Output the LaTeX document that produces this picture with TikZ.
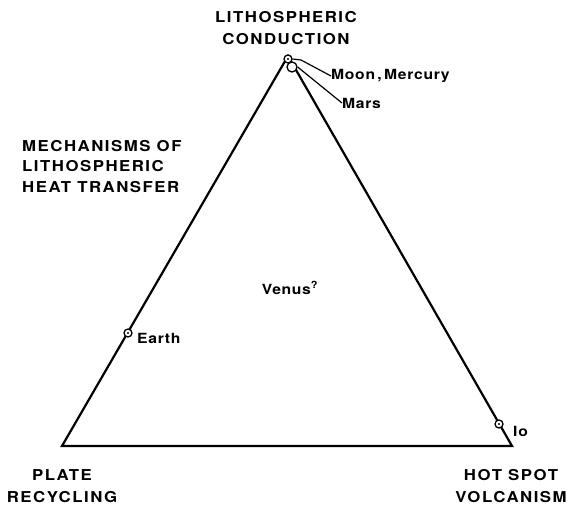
\documentclass[tikz,border=0pt]{standalone}
\usepackage{fontspec}
\setmainfont{TeX Gyre Heros}[FakeStretch=1.12,LetterSpace=10]
\begin{document}
\begin{tikzpicture}[x=1pt,y=-1pt,
  edge/.style={line width=2.2pt,line join=miter},
  mk/.style={circle,draw,line width=1.3pt,fill=white,inner sep=0pt,minimum size=8pt},
  lead/.style={line width=1.2pt,line join=round},
  lbl/.style={font=\fontsize{15}{21.5}\selectfont\bfseries,inner sep=0pt,align=center},
  lbll/.style={font=\fontsize{15}{20.5}\selectfont\bfseries,inner sep=0pt,align=left},
  sml/.style={font=\fontsize{14}{16}\selectfont\bfseries\addfontfeature{LetterSpace=5},inner sep=0pt,anchor=west}]
\useasboundingbox (0,0) rectangle (568,507);
\coordinate (pr) at (62,446);
\coordinate (hs) at (512,446);
\coordinate (lc) at (288,56);
\draw[edge] (pr) -- (hs) -- (lc) -- cycle;
% markers
\node[mk] (moon) at (288,59) {};
\fill (moon) circle (1.1pt);
\node[mk,minimum size=10pt] (mars) at (292,67) {};
\node[mk] (earth) at (128,333) {};
\fill (earth) circle (1.1pt);
\node[mk] (io) at (499,424) {};
\fill (io) circle (1.1pt);
% labels
\node[lbl] (top) at (286,28) {LITHOSPHERIC\\CONDUCTION};
\node[lbll,anchor=north west] (mech) at (22,140) {MECHANISMS OF\\LITHOSPHERIC\\HEAT TRANSFER};
\node[lbl] (plate) at (62,486) {PLATE\\RECYCLING};
\node[lbl] (hot) at (511,486) {HOT SPOT\\VOLCANISM};
\node[sml] (moonl) at (331,76) {Moon\,,\,Mercury};
\node[sml] (marsl) at (342,103) {Mars};
\node[sml] (earthl) at (137,338) {Earth};
\node[sml] (iol) at (513,431) {Io};
\node[sml,anchor=center] (venus) at (290,288) {Venus\textsuperscript{?}};
% leaders
\draw[lead] (moon.east) -- (301,60) -- (moonl.west);
\draw[lead] (mars.east) -- (marsl.west);
\end{tikzpicture}
\end{document}
